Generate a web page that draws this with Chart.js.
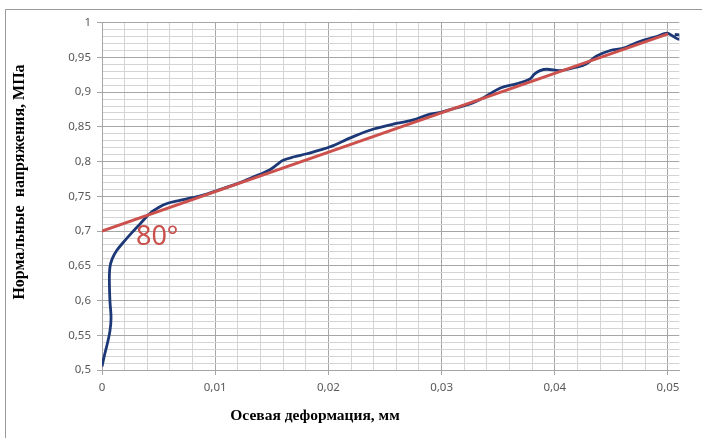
<!DOCTYPE html>
<html>
<head>
<meta charset="utf-8">
<script src="https://cdn.jsdelivr.net/npm/chart.js@4/dist/chart.umd.min.js"></script>
<style>
  html, body { margin: 0; padding: 0; background: #ffffff; }
  #wrap { width: 702px; height: 438px; position: relative; }
</style>
</head>
<body>
<div id="wrap"><canvas id="c" width="702" height="438"></canvas></div>
<script>
// ---- data ----
const deformation = [0, 0.0002, 0.0005, 0.0007, 0.0008, 0.0007, 0.00065, 0.0007, 0.0009, 0.0013, 0.0019, 0.0026,
  0.0034, 0.0042, 0.0050, 0.0058, 0.0068, 0.0080, 0.0090, 0.0101, 0.0119, 0.0134, 0.0148, 0.0154, 0.0160,
  0.0170, 0.0180, 0.0193, 0.0201, 0.0222, 0.0240, 0.0260, 0.0275, 0.0287, 0.0299, 0.0310, 0.0325, 0.0337,
  0.0352, 0.0366, 0.0378, 0.0382, 0.0387, 0.0393, 0.0405, 0.0419, 0.0428, 0.0437, 0.0449, 0.0460, 0.0475,
  0.0490, 0.0499, 0.0505, 0.0510, 0.0511, 0.0506];
const stress = [0.505, 0.520, 0.540, 0.556, 0.575, 0.600, 0.630, 0.648, 0.660, 0.672, 0.684, 0.697,
  0.711, 0.725, 0.734, 0.740, 0.744, 0.748, 0.752, 0.758, 0.768, 0.778, 0.788, 0.795, 0.802,
  0.807, 0.811, 0.817, 0.821, 0.836, 0.847, 0.855, 0.860, 0.867, 0.871, 0.876, 0.883, 0.892,
  0.906, 0.912, 0.919, 0.926, 0.931, 0.933, 0.931, 0.936, 0.941, 0.952, 0.960, 0.963, 0.973,
  0.980, 0.985, 0.980, 0.976, 0.982, 0.983];
const fitDeformation = [0, 0.05];
const fitStress = [0.700, 0.984];
const angleLabel = '80°';

const xTickValues = [0, 0.01, 0.02, 0.03, 0.04, 0.05];
const yTickValues = [0.5, 0.55, 0.6, 0.65, 0.7, 0.75, 0.8, 0.85, 0.9, 0.95, 1];
const xTitle = 'Осевая деформация, мм';
const yTitle = 'Нормальные  напряжения, МПа';

const toPts = (xs, ys) => xs.map((x, i) => ({ x: x, y: ys[i] }));
const isIn = (v, list) => list.some(t => Math.abs(t - v) < 1e-7);
const fmt = v => String(Math.round(v * 1000) / 1000).replace('.', ',');

const MAJOR = '#a6a6a6', MINOR = '#d4d4d4';

const decor = {
  id: 'decor',
  beforeDraw(chart) {
    const ctx = chart.ctx;
    ctx.save();
    ctx.strokeStyle = '#9a9a9a';
    ctx.lineWidth = 1;
    ctx.beginPath();
    ctx.moveTo(5.5, 438);
    ctx.lineTo(5.5, 9.5);
    ctx.lineTo(702, 9.5);
    ctx.stroke();
    ctx.restore();
  },
  afterDraw(chart) {
    const ctx = chart.ctx;
    const xs = chart.scales.x, ys = chart.scales.y;
    ctx.save();
    ctx.fillStyle = '#000000';
    ctx.textAlign = 'center';
    ctx.textBaseline = 'middle';
    ctx.font = 'bold 15.5px "Liberation Serif"';
    ctx.fillText(xTitle, 315, 416);
    ctx.translate(20, 182);
    ctx.rotate(-Math.PI / 2);
    ctx.font = 'bold 16px "Liberation Serif"';
    ctx.fillText(yTitle, 0, 0);
    ctx.restore();
    ctx.save();
    ctx.fillStyle = '#c9504c';
    ctx.font = '27px "Noto Sans"';
    ctx.textAlign = 'left';
    ctx.textBaseline = 'alphabetic';
    ctx.fillText(angleLabel, xs.getPixelForValue(0.003), ys.getPixelForValue(0.6805));
    ctx.restore();
  }
};

new Chart(document.getElementById('c'), {
  type: 'scatter',
  data: {
    datasets: [
      {
        label: 'fit',
        data: toPts(fitDeformation, fitStress),
        showLine: true,
        borderColor: '#cc514d',
        borderWidth: 2.8,
        pointRadius: 0,
        tension: 0
      },
      {
        label: 'curve',
        data: toPts(deformation, stress),
        showLine: true,
        borderColor: '#1c3877',
        borderWidth: 2.8,
        pointRadius: 0,
        tension: 0.35
      }
    ]
  },
  options: {
    responsive: false,
    animation: false,
    devicePixelRatio: 1,
    layout: { padding: { left: 0, right: 22.7, top: 22.7, bottom: 0 } },
    plugins: { legend: { display: false }, tooltip: { enabled: false } },
    scales: {
      x: {
        type: 'linear',
        min: 0, max: 0.051,
        afterFit: s => { s.height = 68; },
        border: { color: MAJOR, width: 1 },
        grid: {
          color: c => isIn(c.tick.value, xTickValues) ? MAJOR : MINOR,
          tickColor: c => isIn(c.tick.value, xTickValues) ? MAJOR : 'rgba(0,0,0,0)',
          tickLength: 5,
          lineWidth: 1
        },
        ticks: {
          stepSize: 0.002,
          includeBounds: false,
          autoSkip: false,
          maxRotation: 0,
          padding: 6,
          color: '#595959',
          font: { family: '"Noto Sans"', size: 11.5 },
          callback: v => isIn(v, xTickValues) ? fmt(v) : ''
        }
      },
      y: {
        type: 'linear',
        min: 0.5, max: 1,
        afterFit: s => { s.width = 102; },
        border: { color: MAJOR, width: 1 },
        grid: {
          color: c => isIn(c.tick.value, yTickValues) ? MAJOR : MINOR,
          tickColor: c => isIn(c.tick.value, yTickValues) ? MAJOR : 'rgba(0,0,0,0)',
          tickLength: 5,
          lineWidth: 1
        },
        ticks: {
          stepSize: 0.01,
          autoSkip: false,
          padding: 6,
          color: '#595959',
          font: { family: '"Noto Sans"', size: 11.5 },
          callback: v => isIn(v, yTickValues) ? fmt(v) : ''
        }
      }
    }
  },
  plugins: [decor]
});
</script>
</body>
</html>
